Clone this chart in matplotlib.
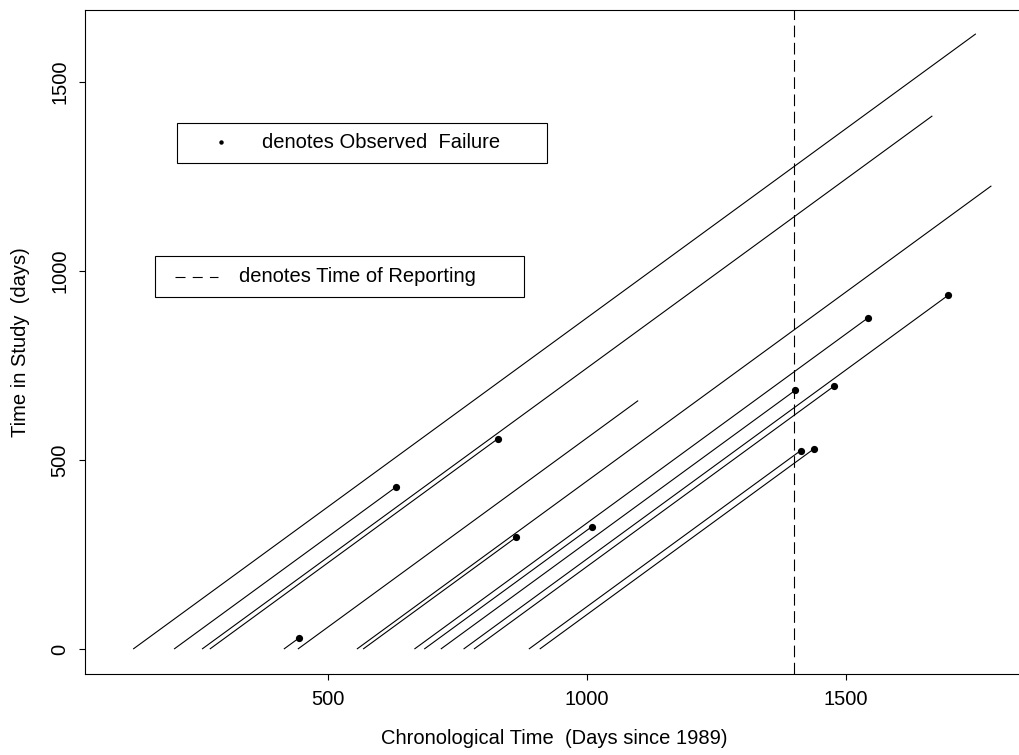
import matplotlib
matplotlib.use('Agg')
import matplotlib.pyplot as plt
from matplotlib.patches import Rectangle

# Daten: Eintritt (Tage seit 1989), Zeit in Studie (Tage), Ausfall beobachtet?
entry_days = [124, 203, 257, 272, 415, 442, 556, 568, 667, 686, 718, 762, 782, 888, 909]
study_days = [1627, 428, 1410, 556, 29, 657, 1225, 296, 875, 323, 684, 936, 696, 525, 530]
failed = [0, 1, 0, 1, 1, 0, 0, 1, 1, 1, 1, 1, 1, 1, 1]
report_day = 1400

x_ticks = [500, 1000, 1500]
y_ticks = [0, 500, 1000, 1500]

plt.rcParams['font.family'] = ['Liberation Sans', 'DejaVu Sans']
FS = 14.5

fig = plt.figure(figsize=(10.2, 7.55), dpi=100)
# Achse ragt rechts leicht aus dem Bild (wie im Original abgeschnitten)
ax = fig.add_axes([85 / 1020, 81 / 755, 939 / 1020, 664 / 755])

for e, t, f in zip(entry_days, study_days, failed):
    ax.plot([e, e + t], [0, t], color='black', lw=0.8, solid_capstyle='butt')
    if f:
        ax.plot(e + t, t, 'o', color='black', ms=5.2, mew=0)

ax.axvline(report_day, color='black', lw=0.8, dashes=(10.5, 5))

ax.set_xlim(31, 1844)
ax.set_ylim(-66, 1690)
ax.set_xticks(x_ticks)
ax.set_yticks(y_ticks)
ax.tick_params(direction='out', length=4.3, width=0.8, labelsize=FS)
ax.tick_params(axis='x', pad=7)
ax.tick_params(axis='y', pad=7)
for lab in ax.get_yticklabels():
    lab.set_rotation(90)
    lab.set_va('center')

for s in ax.spines.values():
    s.set_linewidth(0.8)
ax.spines['right'].set_visible(False)

ax.set_xlabel('Chronological Time  (Days since 1989)', fontsize=FS, va='center')
ax.xaxis.set_label_coords(0.5, -0.097)
ax.set_ylabel('Time in Study  (days)', fontsize=FS, va='center')
ax.yaxis.set_label_coords(-0.069, 0.5)

# --- Legenden-Kästen ---
ax.add_patch(Rectangle((0.0980, 0.7696), 0.3940, 0.0602, transform=ax.transAxes,
                       fill=False, lw=0.8, edgecolor='black'))
ax.plot([0.1448], [0.8012], 'o', color='black', ms=3.2, mew=0, transform=ax.transAxes)
ax.text(0.1885, 0.8012, 'denotes Observed  Failure', transform=ax.transAxes,
        fontsize=FS, va='center', ha='left')

ax.add_patch(Rectangle((0.0745, 0.5678), 0.3930, 0.0617, transform=ax.transAxes,
                       fill=False, lw=0.8, edgecolor='black'))
ax.plot([0.0958, 0.1416], [0.5986, 0.5986], color='black', lw=0.8, dashes=(9, 6.5),
        transform=ax.transAxes)
ax.text(0.1640, 0.5986, 'denotes Time of Reporting', transform=ax.transAxes,
        fontsize=FS, va='center', ha='left')

plt.savefig('out.png', dpi=100)
